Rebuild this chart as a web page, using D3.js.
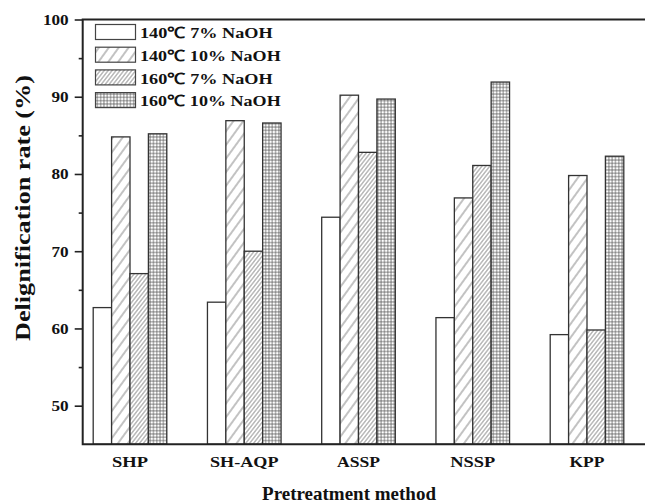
<!DOCTYPE html>
<html>
<head>
<meta charset="utf-8">
<script src="https://cdn.jsdelivr.net/npm/d3@7/dist/d3.min.js"></script>
<style>
  html, body { margin: 0; padding: 0; background: #fff; }
  svg { display: block; }
  text { font-family: "Liberation Serif", "Times New Roman", serif; font-weight: bold; fill: #111; }
</style>
</head>
<body>
<svg id="chart" width="645" height="504"></svg>
<script>
// ---- data ----
const categories = ["SHP", "SH-AQP", "ASSP", "NSSP", "KPP"];
const seriesNames = ["140℃ 7% NaOH", "140℃ 10% NaOH", "160℃ 7% NaOH", "160℃ 10% NaOH"];
const s140_7 = [62.7, 63.4, 74.4, 61.4, 59.2];
const s140_10 = [84.8, 86.9, 90.2, 76.9, 79.8];
const s160_7 = [67.1, 70.0, 82.8, 81.1, 59.8];
const s160_10 = [85.2, 86.6, 89.7, 91.9, 82.3];
const yTicks = [50, 60, 70, 80, 90, 100];
const yMinorTicks = [55, 65, 75, 85, 95];
const xTitle = "Pretreatment method";
const yTitle = "Delignification rate (%)";

const seriesValues = [s140_7, s140_10, s160_7, s160_10];
const fills = ["#fff", "url(#p-sparse)", "url(#p-dense)", "url(#p-grid)"];

const svg = d3.select("#chart");
const mLeft = 82.7, mTop = 19.5, mBottom = 444.3, mRight = 660;
const FONT = "'Liberation Serif', 'Times New Roman', serif";

// stretch a text horizontally (in its own frame) to a target width
function fitText(sel, tx, ty, targetW, rot) {
  sel.each(function () {
    const n = this.getComputedTextLength();
    const s = n > 0 ? targetW / n : 1;
    d3.select(this).attr("transform",
      `translate(${tx},${ty})${rot ? ` rotate(${rot})` : ""} scale(${s},1)`);
  });
}

// ---- patterns ----
const defs = svg.append("defs");
function hatch(id, w, angle, color, sw) {
  const p = defs.append("pattern").attr("id", id)
    .attr("patternUnits", "userSpaceOnUse")
    .attr("width", w).attr("height", 10)
    .attr("patternTransform", `rotate(${angle})`);
  p.append("rect").attr("width", w).attr("height", 10).attr("fill", "#fff");
  p.append("line").attr("x1", w / 2).attr("x2", w / 2).attr("y1", -1).attr("y2", 11)
    .attr("stroke", color).attr("stroke-width", sw);
}
hatch("p-sparse", 8, 36, "#666", 0.8);
hatch("p-dense", 3.1, 38, "#5f5f5f", 0.75);
const gs = 3.3;
const pg = defs.append("pattern").attr("id", "p-grid")
  .attr("patternUnits", "userSpaceOnUse").attr("width", gs).attr("height", gs);
pg.append("rect").attr("width", gs).attr("height", gs).attr("fill", "#fff");
pg.append("path").attr("d", `M0,${gs/2}H${gs}M${gs/2},0V${gs}`)
  .attr("stroke", "#555").attr("stroke-width", 0.7).attr("fill", "none");

// ---- scales ----
const y = d3.scaleLinear().domain([45, 100]).range([mBottom, mTop]);
const x0 = d3.scalePoint().domain(categories).range([130, 587]);
const x1 = d3.scaleBand().domain(d3.range(seriesNames.length)).range([-36.8, 36.8]);

// ---- bars ----
const barsG = svg.append("g");
seriesValues.forEach((vals, si) => {
  barsG.selectAll(null).data(vals).enter().append("rect")
    .attr("x", (d, i) => x0(categories[i]) + x1(si))
    .attr("width", x1.bandwidth())
    .attr("y", d => y(d))
    .attr("height", d => y(45) - y(d))
    .attr("fill", fills[si])
    .attr("stroke", "#333")
    .attr("stroke-width", 1.3);
});

// ---- axes ----
const yAxis = svg.append("g").attr("transform", `translate(${mLeft},0)`)
  .call(d3.axisLeft(y).tickValues(yTicks).tickSize(8).tickSizeOuter(0).tickFormat(d3.format("d")));
yAxis.select(".domain").remove();
yAxis.attr("font-family", null).attr("font-size", null);
yAxis.selectAll(".tick line").attr("stroke", "#222").attr("stroke-width", 1.6);
yAxis.selectAll(".tick text")
  .attr("x", null).attr("dy", null)
  .attr("font-family", FONT).attr("font-weight", "bold").attr("font-size", 15)
  .attr("fill", "#111")
  .each(function (d) {
    fitText(d3.select(this), -14, 5, String(d).length * 8.6);
  });

const yMinor = svg.append("g").attr("transform", `translate(${mLeft},0)`)
  .call(d3.axisLeft(y).tickValues(yMinorTicks).tickSize(4).tickSizeOuter(0).tickFormat(""));
yMinor.select(".domain").remove();
yMinor.selectAll(".tick line").attr("stroke", "#222").attr("stroke-width", 1.6);

// frame lines: left, bottom, top
svg.append("path")
  .attr("d", `M${mRight},${mTop}H${mLeft}V${mBottom}H${mRight}`)
  .attr("fill", "none").attr("stroke", "#222").attr("stroke-width", 2);

// x category labels
const catW = { "SHP": 36, "SH-AQP": 68.5, "ASSP": 43, "NSSP": 45, "KPP": 35 };
svg.append("g").selectAll("text").data(categories).enter().append("text")
  .attr("text-anchor", "middle")
  .attr("font-family", FONT).attr("font-weight", "bold").attr("font-size", 15.5)
  .text(d => d)
  .each(function (d) { fitText(d3.select(this), x0(d), 467, catW[d]); });

// axis titles
fitText(svg.append("text")
  .attr("text-anchor", "middle")
  .attr("font-family", FONT).attr("font-weight", "bold").attr("font-size", 18.5)
  .text(xTitle), 349, 500, 174);
fitText(svg.append("text")
  .attr("text-anchor", "middle")
  .attr("font-family", FONT).attr("font-weight", "bold").attr("font-size", 22)
  .text(yTitle), 30, 208, 266, -90);

// ---- legend ----
const leg = svg.append("g");
const rowH = 22.7;
const legW = [132, 140, 132, 140];
seriesNames.forEach((name, i) => {
  const yy = 24.5 + i * rowH;
  leg.append("rect").attr("x", 95.5).attr("y", yy).attr("width", 40).attr("height", 15)
    .attr("fill", fills[i]).attr("stroke", "#444").attr("stroke-width", 1.2);
  fitText(leg.append("text")
    .attr("font-family", FONT).attr("font-weight", "bold").attr("font-size", 15.5)
    .text(name), 140, yy + 13.8, legW[i]);
});
</script>
</body>
</html>
